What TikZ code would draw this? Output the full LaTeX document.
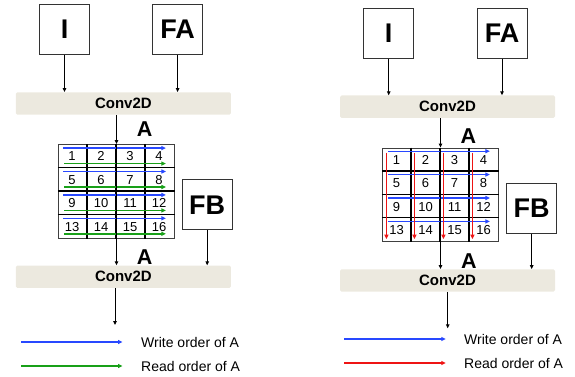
\documentclass[tikz,border=0pt]{standalone}
\usepackage{fontspec}
\setmainfont{Liberation Sans}
\usetikzlibrary{arrows.meta,calc}
\definecolor{barfill}{RGB}{236,233,223}
\definecolor{wblue}{RGB}{40,72,255}
\definecolor{rgreen}{RGB}{24,160,24}
\definecolor{rred}{RGB}{238,20,20}
\begin{document}
\begin{tikzpicture}[x=1pt,y=-1pt,
  box/.style={draw=black!80, line width=1pt, minimum width=50pt, minimum height=50pt,
    inner sep=0pt, font=\bfseries\fontsize{27}{27}\selectfont},
  bar/.style={fill=barfill, rounded corners=1.5pt, minimum width=215pt, minimum height=22.4pt,
    inner sep=0pt, font=\bfseries\fontsize{15}{15}\selectfont},
  flow/.style={-{Triangle[length=4pt,width=3.5pt]}, line width=1pt},
  tag/.style={font=\bfseries\fontsize{21.5}{21.5}\selectfont, anchor=base, inner sep=0pt},
  num/.style={font=\fontsize{13}{13}\selectfont, inner sep=0pt},
  order/.style={-{Triangle[length=4.5pt,width=4pt]}, line width=1.4pt},
  legtext/.style={font=\fontsize{14}{14}\selectfont, anchor=base west, inner sep=0pt},
  gridbox/.style={draw=black!75, line width=1.2pt, minimum width=116pt, minimum height=93.6pt, inner sep=0pt},
  gridline/.style={line width=1.2pt, black}]
\useasboundingbox (0,0) rectangle (575,377);

% ---------------- left: row-wise write, row-wise read ----------------
\node[box] (IL) at (64.5,29.5) {I};
\node[box] (FAL) at (177.6,29.5) {FA};
\node[bar] (C1L) at (123.4,103.5) {Conv2D};
\node[gridbox] (GL) at (116.5,191.5) {};
\node[box] (FBL) at (207.2,204.8) {FB};
\node[bar] (C2L) at (123.4,276.7) {Conv2D};
\node[tag] (AL1) at (144.7,136) {A};
\node[tag] (AL2) at (144.7,264) {A};
\coordinate (OL) at (115,325);

\foreach \k in {1,2,3} {
  \draw[gridline] ($(GL.north west)+({\k*29},0)$) -- ($(GL.south west)+({\k*29},0)$);
  \draw[gridline] ($(GL.north west)+(0,{\k*23.4})$) -- ($(GL.north east)+(0,{\k*23.4})$);
}
\foreach \r in {0,...,3} {
  \foreach \c in {0,...,3} {
    \pgfmathtruncatemacro\n{4*\r+\c+1}
    \node[num] (L\n) at ($(GL.north west)+({(\c+0.5)*29-0.3},{(\r+0.5)*23.4+0.6})$) {\n};
  }
  \draw[order, wblue] ($(GL.north west)+(5.5,{\r*23.4+4})$) -- ($(GL.north west)+(108,{\r*23.4+4})$);
  \draw[order, rgreen] ($(GL.north west)+(6.5,{\r*23.4+19.5})$) -- ($(GL.north west)+(108,{\r*23.4+19.5})$);
}

\draw[flow] (IL.south) -- (IL.south |- C1L.north);
\draw[flow] (FAL.south) -- (FAL.south |- C1L.north);
\draw[flow] (C1L.south -| GL.north) -- (GL.north);
\draw[flow] (GL.north) -- (GL.north |- C2L.north);
\draw[flow] (FBL.south) -- (FBL.south |- C2L.north);
\draw[flow] (C2L.south -| OL) -- (OL);

\coordinate (LW1) at (21,342);  \coordinate (LW2) at (122.5,342);
\coordinate (LR1) at (21,366);  \coordinate (LR2) at (122.5,366);
\draw[order, wblue] (LW1) -- (LW2);
\draw[order, rgreen] (LR1) -- (LR2);
\node[legtext] (LWT) at (141,347) {Write order of A};
\node[legtext] (LRT) at (141,371.3) {Read order of A};

% ---------------- right: row-wise write, column-wise read ----------------
\node[box] (IR) at (388.7,33.2) {I};
\node[box] (FAR) at (502,33.2) {FA};
\node[bar] (C1R) at (447.5,106.7) {Conv2D};
\node[gridbox] (GR) at (440.5,195) {};
\node[box] (FBR) at (531.7,208.3) {FB};
\node[bar] (C2R) at (447.5,280.5) {Conv2D};
\node[tag] (AR1) at (468.5,143.3) {A};
\node[tag] (AR2) at (469,268.3) {A};
\coordinate (OR) at (447.7,328.3);

\foreach \k in {1,2,3} {
  \draw[gridline] ($(GR.north west)+({\k*29},0)$) -- ($(GR.south west)+({\k*29},0)$);
  \draw[gridline] ($(GR.north west)+(0,{\k*23.4})$) -- ($(GR.north east)+(0,{\k*23.4})$);
}
\foreach \r in {0,...,3} {
  \foreach \c in {0,...,3} {
    \pgfmathtruncatemacro\n{4*\r+\c+1}
    \node[num] (R\n) at ($(GR.north west)+({(\c+0.5)*29+0.2},{(\r+0.5)*23.4+0.6})$) {\n};
  }
  \draw[order, wblue] ($(GR.north west)+(6.5,{\r*23.4+3.6})$) -- ($(GR.north west)+(108,{\r*23.4+3.6})$);
}
\foreach \c/\dx in {0/4.5,1/3.5,2/3.5,3/3.5} {
  \draw[order, rred] ($(GR.north west)+({\c*29+\dx},5)$) -- ($(GR.north west)+({\c*29+\dx},91.5)$);
}

\draw[flow] (IR.south) -- (IR.south |- C1R.north);
\draw[flow] (FAR.south) -- (FAR.south |- C1R.north);
\draw[flow] (C1R.south -| GR.north) -- (GR.north);
\draw[flow] (GR.north) -- (GR.north |- C2R.north);
\draw[flow] (FBR.south) -- (FBR.south |- C2R.north);
\draw[flow] (C2R.south -| OR) -- (OR);

\coordinate (RW1) at (344.3,339);  \coordinate (RW2) at (445.8,339);
\coordinate (RR1) at (344.3,363);  \coordinate (RR2) at (445.8,363);
\draw[order, wblue] (RW1) -- (RW2);
\draw[order, rred] (RR1) -- (RR2);
\node[legtext] (RWT) at (464,344.3) {Write order of A};
\node[legtext] (RRT) at (464,368.8) {Read order of A};
\end{tikzpicture}
\end{document}
